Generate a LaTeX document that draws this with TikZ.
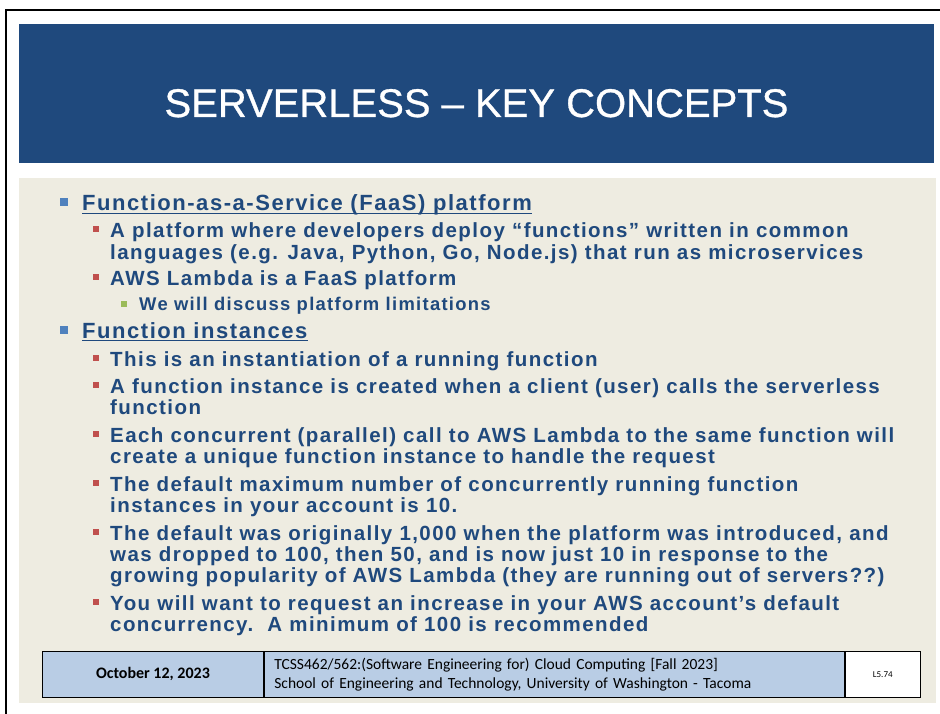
\documentclass[tikz,border=0pt]{standalone}
\usepackage{fontspec}
\setmainfont{Liberation Sans}
\newfontfamily\bodyfont[LetterSpace=7]{Liberation Sans Bold}
\newfontfamily\titlefont[FakeBold=0.8]{Liberation Sans}
\newfontfamily\footfont{Carlito}
\usetikzlibrary{positioning}

\definecolor{slideblue}{HTML}{1F497D}
\definecolor{slidebeige}{HTML}{EEECE1}
\definecolor{bulletone}{HTML}{4F81BD}
\definecolor{bullettwo}{HTML}{C0504D}
\definecolor{bulletthree}{HTML}{9BBB59}
\definecolor{footblue}{HTML}{B9CDE5}

% multi-line items are placed by the baseline of their last line
\tikzset{
  itemone/.style={anchor=base west, inner sep=0pt, align=left, text=slideblue,
    font=\bodyfont\fontsize{22}{23}\selectfont},
  itemtwo/.style={itemone, font=\bodyfont\fontsize{20.5}{21}\selectfont},
  itemthree/.style={itemone, font=\bodyfont\fontsize{18.4}{19}\selectfont},
  bulone/.style={fill=bulletone, inner sep=0pt, minimum size=8pt},
  bultwo/.style={fill=bullettwo, inner sep=0pt, minimum size=6.5pt},
  bulthree/.style={fill=bulletthree, inner sep=0pt, minimum size=6pt},
  headline/.style={draw=slideblue, line width=1.3pt},
  footcell/.style={draw=black, line width=0.9pt, fill=footblue, inner sep=0pt,
    minimum height=46pt, font=\footfont\fontsize{15.5}{18.5}\selectfont},
}

\begin{document}
\begin{tikzpicture}[x=1pt, y=-1pt, node distance=0pt]

  \useasboundingbox (0,0) rectangle (940,714);
  \fill[white] (0,0) rectangle (940,714);
  \draw[line width=2pt] (6,714) -- (6,10) -- (940,10);

  % title band
  \fill[slideblue] (19,24) rectangle (934,163);
  \node[anchor=base, text=white, inner sep=0pt,
        font=\titlefont\fontsize{40}{40}\selectfont] (title) at (476.5,117)
        {SERVERLESS – KEY CONCEPTS};

  % body
  \fill[slidebeige] (19,178) rectangle (936,703);

  \node[bulone] (b1) at (64,202) {};
  \node[itemone] (faas) at (82,211) {Function-as-a-Service (FaaS) platform};
  \node[bultwo] (b2) at (96,229) {};
  \node[itemtwo] (deploy) at (110,259)
    {A platform where developers deploy “functions” written in common\\
     languages (e.g. Java, Python, Go, Node.js) that run as microservices};
  \node[bultwo] (b3) at (96,277) {};
  \node[itemtwo] (lambda) at (110,286) {AWS Lambda is a FaaS platform};
  \node[bulthree] (b4) at (124,304) {};
  \node[itemthree] (limits) at (139,310) {We will discuss platform limitations};

  \node[bulone] (b5) at (64,330) {};
  \node[itemone] (inst) at (82,338) {Function instances};
  \node[bultwo] (b6) at (96,358) {};
  \node[itemtwo] (running) at (110,366) {This is an instantiation of a running function};
  \node[bultwo] (b7) at (96,385) {};
  \node[itemtwo] (created) at (110,414)
    {A function instance is created when a client (user) calls the serverless\\
     function};
  \node[bultwo] (b8) at (96,434) {};
  \node[itemtwo] (parallel) at (110,463)
    {Each concurrent (parallel) call to AWS Lambda to the same function will\\
     create a unique function instance to handle the request};
  \node[bultwo] (b9) at (96,483) {};
  \node[itemtwo] (maxnum) at (110,512)
    {The default maximum number of concurrently running function\\
     instances in your account is 10.};
  \node[bultwo] (b10) at (96,532) {};
  \node[itemtwo] (history) at (110,582)
    {The default was originally 1,000 when the platform was introduced, and\\
     was dropped to 100, then 50, and is now just 10 in response to the\\
     growing popularity of AWS Lambda (they are running out of servers??)};
  \node[bultwo] (b11) at (96,602) {};
  \node[itemtwo] (request) at (110,631)
    {You will want to request an increase in your AWS account’s default\\
     concurrency.\ \ A minimum of 100 is recommended};

  % underlines of the headings
  \draw[headline] ([yshift=-2.5pt]faas.base west) -- ([yshift=-2.5pt]faas.base east);
  \draw[headline] ([yshift=-2.5pt]inst.base west) -- ([yshift=-2.5pt]inst.base east);

  % footer
  \node[footcell, anchor=north west, minimum width=221pt,
        font=\footfont\bfseries\fontsize{16}{18}\selectfont] (date) at (42,651)
        {October 12, 2023};
  \node[footcell, right=of date, minimum width=580pt, text width=560pt,
        inner xsep=10pt, align=left] (course)
        {TCSS462/562:(Software Engineering for) Cloud Computing [Fall 2023]\\
         School of Engineering and Technology, University of Washington - Tacoma};
  \node[footcell, right=of course, minimum width=75pt, fill=white,
        font=\footfont\fontsize{9}{11}\selectfont] (page) {L5.74};

\end{tikzpicture}
\end{document}
